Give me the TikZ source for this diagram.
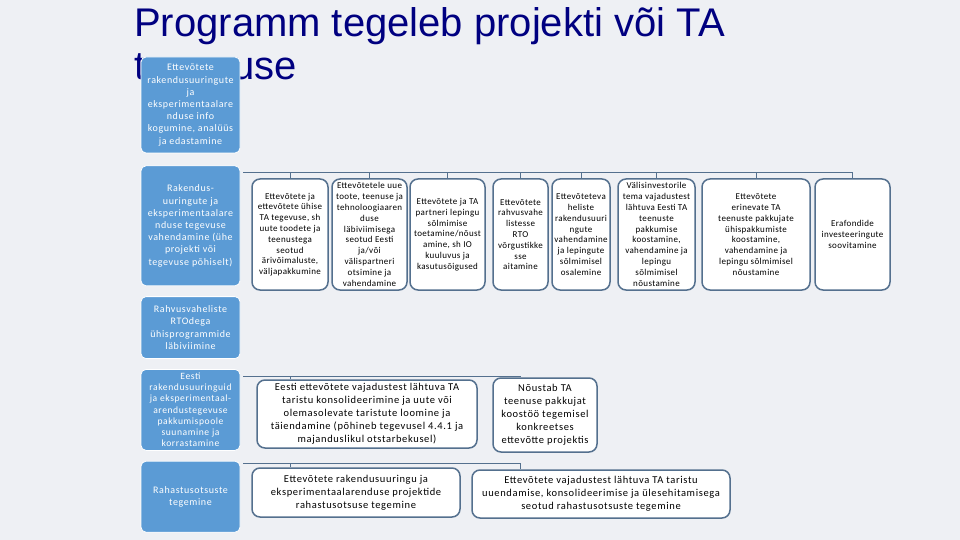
\documentclass[tikz,border=0pt]{standalone}
\usepackage{fontspec}
\usetikzlibrary{positioning}

\newfontfamily\titlefont{Liberation Sans}
\newfontfamily\boxfont[LetterSpace=6]{Carlito}
\newfontfamily\itemfont[LetterSpace=4]{Carlito}

\definecolor{slidebg}{RGB}{238,240,244}
\definecolor{titleblue}{RGB}{0,0,128}
\definecolor{boxblue}{RGB}{91,155,213}
\definecolor{linegrey}{RGB}{84,112,142}

\begin{document}
\begin{tikzpicture}[x=1pt, y=-1pt, node distance=10pt,
  titleline/.style={font=\titlefont\fontsize{40}{40}\selectfont, text=titleblue, inner sep=0pt, anchor=base west},
  leftbox/.style={draw=white, line width=0.8pt, fill=boxblue, rounded corners=5pt, text=white, minimum width=99pt, align=center, inner sep=1pt, font=\boxfont\fontsize{10}{12.2}\selectfont},
  itembox/.style={draw=linegrey, line width=1.5pt, fill=white, rounded corners=8pt, align=center, inner sep=1pt, minimum height=111pt, font=\itemfont\fontsize{9}{10.8}\selectfont},
  widebox/.style={itembox, font=\boxfont\fontsize{10.5}{13}\selectfont},
  tie/.style={draw=linegrey, line width=0.8pt}]

\fill[slidebg] (0,0) rectangle (960,540);
\useasboundingbox (0,0) rectangle (960,540);

\node[titleline] (title1) at (134,37) {Programm tegeleb projekti või TA};
\node[titleline] (title2) at (134,80) {tegevuse};

% left column
\node[leftbox, minimum height=96pt] (info) at (190.5,105) {Ettevõtete\\rakendusuuringute\\ja\\eksperimentaalare\\nduse info\\kogumine, analüüs\\ja edastamine};
\node[leftbox, minimum height=120pt, below=12pt of info] (vahendus) {Rakendus-\\uuringute ja\\eksperimentaalare\\nduse tegevuse\\vahendamine (ühe\\projekti või\\tegevuse põhiselt)};
\node[leftbox, minimum height=62pt, below=of vahendus] (rto) {Rahvusvaheliste\\RTOdega\\ühisprogrammide\\läbiviimine};
\node[leftbox, minimum height=81pt, below=of rto, font=\boxfont\fontsize{9.6}{11.2}\selectfont] (taristu) {Eesti\\rakendusuuringuid\\ja eksperimentaal-\\arendustegevuse\\pakkumispoole\\suunamine ja\\korrastamine};
\node[leftbox, minimum height=71pt, below=of taristu] (rahastus) {Rahastusotsuste\\tegemine};

% top row
\node[itembox, minimum width=76pt] (arivoimalus) at (290,234.5) {Ettevõtete ja\\ettevõtete ühise\\TA tegevuse, sh\\uute toodete ja\\teenustega\\seotud\\ärivõimaluste,\\väljapakkumine};
\node[itembox, minimum width=75pt] (partner) at (369.5,234.5) {Ettevõtetele uue\\toote, teenuse ja\\tehnoloogiaaren\\duse\\läbiviimisega\\seotud Eesti\\ja/või\\välispartneri\\otsimine ja\\vahendamine};
\node[itembox, minimum width=75pt] (leping) at (447.5,234.5) {Ettevõtete ja TA\\partneri lepingu\\sõlmimise\\toetamine/nõust\\amine, sh IO\\kuuluvus ja\\kasutusõigused};
\node[itembox, minimum width=55pt] (vorgustik) at (520.5,234.5) {Ettevõtete\\rahvusvahe\\listesse\\RTO\\võrgustikke\\sse\\aitamine};
\node[itembox, minimum width=58pt] (valisrto) at (581,234.5) {Ettevõteteva\\heliste\\rakendusuuri\\ngute\\vahendamine\\ja lepingute\\sõlmimisel\\osalemine};
\node[itembox, minimum width=77pt] (investor) at (656.5,234.5) {Välisinvestorile\\tema vajadustest\\lähtuva Eesti TA\\teenuste\\pakkumise\\koostamine,\\vahendamine ja\\lepingu\\sõlmimisel\\nõustamine};
\node[itembox, minimum width=108pt] (yhispakkumine) at (756,234.5) {Ettevõtete\\erinevate TA\\teenuste pakkujate\\ühispakkumiste\\koostamine,\\vahendamine ja\\lepingu sõlmimisel\\nõustamine};
\node[itembox, minimum width=75pt] (erafond) at (852.5,234.5) {Erafondide\\investeeringute\\soovitamine};

% second and third row
\node[widebox, minimum width=220pt, minimum height=68pt] (taristuloome) at (367,414) {Eesti ettevõtete vajadustest lähtuva TA\\taristu konsolideerimine ja uute või\\olemasolevate taristute loomine ja\\täiendamine (põhineb tegevusel 4.4.1 ja\\majanduslikul otstarbekusel)};
\node[widebox, minimum width=104pt, minimum height=74pt] (noustab) at (545,415) {Nõustab TA\\teenuse pakkujat\\koostöö tegemisel\\konkreetses\\ettevõtte projektis};
\node[widebox, minimum width=208pt, minimum height=49pt] (projektirahastus) at (356,492.5) {Ettevõtete rakendusuuringu ja\\eksperimentaalarenduse projektide\\rahastusotsuse tegemine};
\node[widebox, minimum width=258pt, minimum height=48pt] (taristurahastus) at (601,494) {Ettevõtete vajadustest lähtuva TA taristu\\uuendamise, konsolideerimise ja ülesehitamisega\\seotud rahastusotsuste tegemine};

% connectors
\coordinate (bus1) at ([xshift=3pt,yshift=-7pt]vahendus.north east);
\coordinate (bus2) at ([xshift=3pt,yshift=-7pt]taristu.north east);
\coordinate (bus3) at ([xshift=3pt,yshift=-3pt]rahastus.north east);

\foreach \n in {arivoimalus,partner,leping,vorgustik,valisrto,investor,yhispakkumine,erafond}
  \draw[tie] (bus1) -| (\n.north);
\draw[tie] (bus2) -| (arivoimalus.north |- taristuloome.north);
\draw[tie] (bus2) -| (vorgustik.north |- noustab.north);
\draw[tie] (bus3) -| (arivoimalus.north |- projektirahastus.north);
\draw[tie] (bus3) -| (vorgustik.north |- taristurahastus.north);

\end{tikzpicture}
\end{document}
